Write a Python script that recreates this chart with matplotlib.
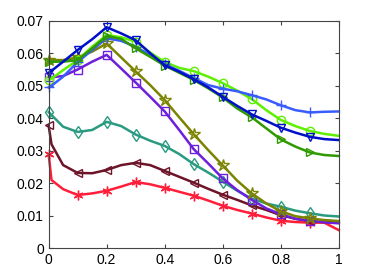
import matplotlib
matplotlib.use('Agg')
import matplotlib.pyplot as plt
import numpy as np

plt.rcParams['font.family'] = ['Liberation Sans', 'DejaVu Sans']

x = np.array([0, 0.01] + list(np.round(np.arange(0.05, 1.0001, 0.05), 2)))

red = [0.0290, 0.0210, 0.0182, 0.0164, 0.0169, 0.0177, 0.0190, 0.0204, 0.0197, 0.0186, 0.0174,
       0.0162, 0.0147, 0.0131, 0.0118, 0.0107, 0.0095, 0.0085, 0.0081, 0.0079, 0.0079, 0.0056]
maroon = [0.0378, 0.0320, 0.0256, 0.0232, 0.0231, 0.0241, 0.0256, 0.0263, 0.0256, 0.0238, 0.0220,
          0.0202, 0.0183, 0.0165, 0.0149, 0.0132, 0.0118, 0.0102, 0.0091, 0.0084, 0.0081, 0.0079]
teal = [0.0419, 0.0410, 0.0374, 0.0358, 0.0364, 0.0389, 0.0376, 0.0350, 0.0331, 0.0315, 0.0290,
        0.0259, 0.0233, 0.0205, 0.0177, 0.0153, 0.0138, 0.0128, 0.0116, 0.0108, 0.0101, 0.0098]
purple = [0.0526, 0.0526, 0.0530, 0.0550, 0.0574, 0.0595, 0.0553, 0.0510, 0.0466, 0.0421, 0.0364,
          0.0305, 0.0261, 0.0215, 0.0179, 0.0149, 0.0123, 0.0105, 0.0091, 0.0085, 0.0080, 0.0077]
olive = [0.0579, 0.0579, 0.0579, 0.0587, 0.0605, 0.0630, 0.0587, 0.0544, 0.0502, 0.0456, 0.0403,
         0.0351, 0.0302, 0.0255, 0.0208, 0.0169, 0.0138, 0.0114, 0.0099, 0.0092, 0.0087, 0.0084]
lime = [0.0518, 0.0522, 0.0548, 0.0579, 0.0620, 0.0656, 0.0649, 0.0636, 0.0602, 0.0573, 0.0555,
        0.0545, 0.0528, 0.0508, 0.0485, 0.0459, 0.0425, 0.0395, 0.0376, 0.0361, 0.0352, 0.0346]
blue = [0.0495, 0.0500, 0.0528, 0.0573, 0.0610, 0.0646, 0.0638, 0.0620, 0.0594, 0.0566, 0.0546,
        0.0524, 0.0502, 0.0491, 0.0483, 0.0471, 0.0458, 0.0440, 0.0425, 0.0418, 0.0420, 0.0421]
navy = [0.0540, 0.0546, 0.0574, 0.0610, 0.0643, 0.0680, 0.0661, 0.0640, 0.0600, 0.0563, 0.0543,
        0.0520, 0.0495, 0.0466, 0.0438, 0.0412, 0.0392, 0.0371, 0.0356, 0.0343, 0.0336, 0.0333]
green = [0.0574, 0.0574, 0.0574, 0.0579, 0.0615, 0.0653, 0.0644, 0.0615, 0.0589, 0.0562, 0.0540,
         0.0518, 0.0492, 0.0464, 0.0430, 0.0403, 0.0369, 0.0335, 0.0313, 0.0295, 0.0287, 0.0284]

marker_x = np.round(np.arange(0, 0.91, 0.1), 2)
marker_idx = [int(np.argmin(np.abs(x - m))) for m in marker_x]

series = [
    (red, '#ff1f3a', (6, 2, 0), 7),
    (maroon, '#6e1428', '<', 6),
    (teal, '#2a9a80', 'd', 6),
    (purple, '#6e1fdc', 's', 6),
    (olive, '#7a8400', '*', 9),
    (lime, '#5ef000', 'o', 6),
    (blue, '#3a5cff', '+', 7),
    (green, '#2f9a00', '>', 6),
    (navy, '#0010c8', 'v', 6),
]

fig = plt.figure(figsize=(3.74, 2.8), dpi=100)
ax = fig.add_axes([0.130, 0.113, 0.776, 0.813])

for vals, col, mk, ms in series:
    ax.plot(x, vals, color=col, lw=1.8, marker=mk, markevery=marker_idx,
            ms=ms, mfc='none', mec=col, mew=1.0, clip_on=False)

ax.set_xlim(0, 1)
ax.set_ylim(0, 0.07)
ax.set_xticks([0, 0.2, 0.4, 0.6, 0.8, 1])
ax.set_xticklabels(['0', '0.2', '0.4', '0.6', '0.8', '1'])
ax.set_yticks(np.arange(0, 0.0701, 0.01))
ax.set_yticklabels(['0', '0.01', '0.02', '0.03', '0.04', '0.05', '0.06', '0.07'])
ax.tick_params(direction='in', top=True, right=True, labelsize=10, length=3, color='#444444')
for s in ax.spines.values():
    s.set_color('#444444')
    s.set_linewidth(0.8)

fig.savefig('out.png', dpi=100)
